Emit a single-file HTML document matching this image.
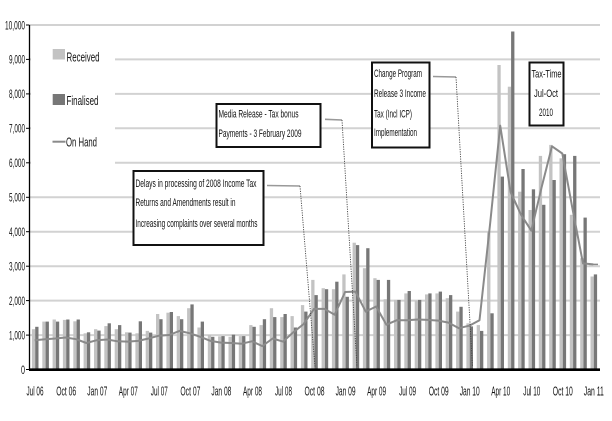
<!DOCTYPE html>
<html><head><meta charset="utf-8"><style>
html,body{margin:0;padding:0;background:#fff;}
svg{display:block;}
text{font-family:"Liberation Sans",Arial,sans-serif;fill:#111;}
</style></head><body>
<svg width="612" height="421" viewBox="0 0 612 421" xmlns="http://www.w3.org/2000/svg">
<rect width="612" height="421" fill="#fff"/>
<!-- gridlines -->
<g stroke="#d2d2d2" stroke-width="2">
<line x1="30" y1="25" x2="600" y2="25"/>
<line x1="30" y1="59.4" x2="600" y2="59.4"/>
<line x1="30" y1="93.9" x2="600" y2="93.9"/>
<line x1="30" y1="128.3" x2="600" y2="128.3"/>
<line x1="30" y1="162.8" x2="600" y2="162.8"/>
<line x1="30" y1="197.3" x2="600" y2="197.3"/>
<line x1="30" y1="231.7" x2="600" y2="231.7"/>
<line x1="30" y1="266.2" x2="600" y2="266.2"/>
<line x1="30" y1="300.6" x2="600" y2="300.6"/>
<line x1="30" y1="335.1" x2="600" y2="335.1"/>
</g>
<!-- legend background -->
<rect x="31" y="40" width="84" height="138" fill="#fff"/>
<!-- Received bars -->
<g fill="#c3c3c3">
<rect x="31.9" y="329.2" width="3.3" height="40.8"/>
<rect x="42.3" y="321.6" width="3.3" height="48.4"/>
<rect x="52.6" y="319.5" width="3.3" height="50.5"/>
<rect x="62.9" y="319.9" width="3.3" height="50.1"/>
<rect x="73.3" y="321.3" width="3.3" height="48.7"/>
<rect x="83.6" y="333.3" width="3.3" height="36.7"/>
<rect x="94.0" y="329.2" width="3.3" height="40.8"/>
<rect x="104.3" y="326.1" width="3.3" height="43.9"/>
<rect x="114.7" y="329.2" width="3.3" height="40.8"/>
<rect x="125.0" y="332.3" width="3.3" height="37.7"/>
<rect x="135.4" y="333.3" width="3.3" height="36.7"/>
<rect x="145.7" y="330.9" width="3.3" height="39.1"/>
<rect x="156.0" y="314.0" width="3.3" height="56.0"/>
<rect x="166.4" y="312.7" width="3.3" height="57.3"/>
<rect x="176.7" y="316.1" width="3.3" height="53.9"/>
<rect x="187.1" y="308.2" width="3.3" height="61.8"/>
<rect x="197.4" y="327.5" width="3.3" height="42.5"/>
<rect x="207.8" y="335.0" width="3.3" height="35.0"/>
<rect x="218.1" y="336.4" width="3.3" height="33.6"/>
<rect x="228.5" y="336.8" width="3.3" height="33.2"/>
<rect x="238.8" y="336.1" width="3.3" height="33.9"/>
<rect x="249.2" y="325.1" width="3.3" height="44.9"/>
<rect x="259.5" y="325.1" width="3.3" height="44.9"/>
<rect x="269.8" y="308.2" width="3.3" height="61.8"/>
<rect x="280.2" y="317.1" width="3.3" height="52.9"/>
<rect x="290.5" y="316.1" width="3.3" height="53.9"/>
<rect x="300.9" y="305.1" width="3.3" height="64.9"/>
<rect x="311.2" y="279.9" width="3.3" height="90.1"/>
<rect x="321.6" y="288.2" width="3.3" height="81.8"/>
<rect x="331.9" y="289.2" width="3.3" height="80.8"/>
<rect x="342.3" y="274.4" width="3.3" height="95.6"/>
<rect x="352.6" y="242.7" width="3.3" height="127.3"/>
<rect x="362.9" y="268.2" width="3.3" height="101.8"/>
<rect x="373.3" y="278.2" width="3.3" height="91.8"/>
<rect x="383.6" y="299.2" width="3.3" height="70.8"/>
<rect x="394.0" y="299.9" width="3.3" height="70.1"/>
<rect x="404.3" y="293.4" width="3.3" height="76.6"/>
<rect x="414.7" y="300.6" width="3.3" height="69.4"/>
<rect x="425.0" y="294.4" width="3.3" height="75.6"/>
<rect x="435.4" y="293.4" width="3.3" height="76.6"/>
<rect x="445.7" y="298.2" width="3.3" height="71.8"/>
<rect x="456.1" y="311.6" width="3.3" height="58.4"/>
<rect x="466.4" y="323.3" width="3.3" height="46.7"/>
<rect x="476.7" y="325.1" width="3.3" height="44.9"/>
<rect x="487.1" y="231.7" width="3.3" height="138.3"/>
<rect x="497.4" y="65.0" width="3.3" height="305.0"/>
<rect x="507.8" y="86.7" width="3.3" height="283.3"/>
<rect x="518.1" y="191.7" width="3.3" height="178.3"/>
<rect x="528.5" y="210.0" width="3.3" height="160.0"/>
<rect x="538.8" y="155.9" width="3.3" height="214.1"/>
<rect x="549.2" y="144.9" width="3.3" height="225.1"/>
<rect x="559.5" y="158.3" width="3.3" height="211.7"/>
<rect x="569.8" y="214.8" width="3.3" height="155.2"/>
<rect x="580.2" y="258.2" width="3.3" height="111.8"/>
<rect x="590.5" y="276.5" width="3.3" height="93.5"/>
</g>
<!-- Finalised bars -->
<g fill="#777">
<rect x="35.2" y="326.8" width="3.3" height="43.2"/>
<rect x="45.6" y="321.6" width="3.3" height="48.4"/>
<rect x="55.9" y="321.6" width="3.3" height="48.4"/>
<rect x="66.2" y="319.5" width="3.3" height="50.5"/>
<rect x="76.6" y="319.5" width="3.3" height="50.5"/>
<rect x="86.9" y="332.3" width="3.3" height="37.7"/>
<rect x="97.3" y="330.6" width="3.3" height="39.4"/>
<rect x="107.6" y="323.3" width="3.3" height="46.7"/>
<rect x="118.0" y="325.1" width="3.3" height="44.9"/>
<rect x="128.3" y="332.6" width="3.3" height="37.4"/>
<rect x="138.7" y="321.3" width="3.3" height="48.7"/>
<rect x="149.0" y="332.6" width="3.3" height="37.4"/>
<rect x="159.3" y="319.2" width="3.3" height="50.8"/>
<rect x="169.7" y="312.0" width="3.3" height="58.0"/>
<rect x="180.0" y="319.2" width="3.3" height="50.8"/>
<rect x="190.4" y="304.4" width="3.3" height="65.6"/>
<rect x="200.7" y="321.6" width="3.3" height="48.4"/>
<rect x="211.1" y="336.8" width="3.3" height="33.2"/>
<rect x="221.4" y="336.1" width="3.3" height="33.9"/>
<rect x="231.8" y="334.7" width="3.3" height="35.3"/>
<rect x="242.1" y="336.1" width="3.3" height="33.9"/>
<rect x="252.5" y="326.8" width="3.3" height="43.2"/>
<rect x="262.8" y="319.2" width="3.3" height="50.8"/>
<rect x="273.1" y="317.1" width="3.3" height="52.9"/>
<rect x="283.5" y="314.0" width="3.3" height="56.0"/>
<rect x="293.8" y="327.5" width="3.3" height="42.5"/>
<rect x="304.2" y="311.6" width="3.3" height="58.4"/>
<rect x="314.5" y="295.1" width="3.3" height="74.9"/>
<rect x="324.9" y="289.2" width="3.3" height="80.8"/>
<rect x="335.2" y="281.7" width="3.3" height="88.3"/>
<rect x="345.6" y="296.8" width="3.3" height="73.2"/>
<rect x="355.9" y="245.1" width="3.3" height="124.9"/>
<rect x="366.2" y="248.2" width="3.3" height="121.8"/>
<rect x="376.6" y="279.9" width="3.3" height="90.1"/>
<rect x="386.9" y="279.9" width="3.3" height="90.1"/>
<rect x="397.3" y="299.9" width="3.3" height="70.1"/>
<rect x="407.6" y="291.0" width="3.3" height="79.0"/>
<rect x="418.0" y="299.9" width="3.3" height="70.1"/>
<rect x="428.3" y="293.4" width="3.3" height="76.6"/>
<rect x="438.7" y="291.6" width="3.3" height="78.4"/>
<rect x="449.0" y="295.1" width="3.3" height="74.9"/>
<rect x="459.4" y="306.8" width="3.3" height="63.2"/>
<rect x="469.7" y="326.4" width="3.3" height="43.6"/>
<rect x="480.0" y="330.9" width="3.3" height="39.1"/>
<rect x="490.4" y="313.3" width="3.3" height="56.7"/>
<rect x="500.7" y="176.6" width="3.3" height="193.4"/>
<rect x="511.1" y="31.5" width="3.3" height="338.5"/>
<rect x="521.4" y="169.0" width="3.3" height="201.0"/>
<rect x="531.8" y="189.3" width="3.3" height="180.7"/>
<rect x="542.1" y="204.8" width="3.3" height="165.2"/>
<rect x="552.5" y="180.0" width="3.3" height="190.0"/>
<rect x="562.8" y="154.2" width="3.3" height="215.8"/>
<rect x="573.1" y="155.9" width="3.3" height="214.1"/>
<rect x="583.5" y="217.6" width="3.3" height="152.4"/>
<rect x="593.8" y="274.4" width="3.3" height="95.6"/>
</g>
<!-- On Hand line -->
<polyline fill="none" stroke="#8a8a8a" stroke-width="2" stroke-linejoin="round" points="34.7,340.2 45.1,339.2 55.4,338.5 65.7,337.5 76.1,339.2 86.4,343.0 96.8,340.2 107.1,339.5 117.5,341.3 127.8,341.6 138.2,340.9 148.5,338.5 158.8,335.7 169.2,335.0 179.5,330.9 189.9,333.3 200.2,336.8 210.6,340.9 220.9,342.6 231.3,343.0 241.6,343.7 252.0,341.3 262.3,346.1 272.6,338.5 283.0,341.6 293.3,332.3 303.7,324.0 314.0,308.9 324.4,308.9 334.7,314.7 345.1,292.0 355.4,291.6 365.7,311.6 376.1,306.5 386.4,324.7 396.8,320.2 407.1,320.2 417.5,319.5 427.8,319.9 438.2,320.6 448.5,322.6 458.9,328.2 469.2,325.7 479.5,320.2 490.0,224.8 500.2,125.6 510.6,192.1 520.9,214.5 531.3,230.7 541.6,187.3 552.0,146.3 562.3,153.5 572.6,209.3 583.0,263.4 593.3,264.4"/>
<line x1="589" y1="264.4" x2="598" y2="264.4" stroke="#8a8a8a" stroke-width="1.5"/>
<!-- axes -->
<line x1="29.5" y1="25" x2="29.5" y2="370" stroke="#000" stroke-width="1.3"/>
<g stroke="#000" stroke-width="1">
<line x1="26" y1="25" x2="29.5" y2="25"/>
<line x1="26" y1="59.4" x2="29.5" y2="59.4"/>
<line x1="26" y1="93.9" x2="29.5" y2="93.9"/>
<line x1="26" y1="128.3" x2="29.5" y2="128.3"/>
<line x1="26" y1="162.8" x2="29.5" y2="162.8"/>
<line x1="26" y1="197.3" x2="29.5" y2="197.3"/>
<line x1="26" y1="231.7" x2="29.5" y2="231.7"/>
<line x1="26" y1="266.2" x2="29.5" y2="266.2"/>
<line x1="26" y1="300.6" x2="29.5" y2="300.6"/>
<line x1="26" y1="335.1" x2="29.5" y2="335.1"/>
<line x1="26" y1="369.5" x2="29.5" y2="369.5"/>
</g>
<line x1="29" y1="369.7" x2="600" y2="369.7" stroke="#000" stroke-width="2.6"/>
<!-- y labels -->
<g font-size="12" text-anchor="end">
<text x="25" y="29.3" textLength="20" lengthAdjust="spacingAndGlyphs">10,000</text>
<text x="25" y="63.7" textLength="16" lengthAdjust="spacingAndGlyphs">9,000</text>
<text x="25" y="98.2" textLength="16" lengthAdjust="spacingAndGlyphs">8,000</text>
<text x="25" y="132.6" textLength="16" lengthAdjust="spacingAndGlyphs">7,000</text>
<text x="25" y="167.1" textLength="16" lengthAdjust="spacingAndGlyphs">6,000</text>
<text x="25" y="201.6" textLength="16" lengthAdjust="spacingAndGlyphs">5,000</text>
<text x="25" y="236" textLength="16" lengthAdjust="spacingAndGlyphs">4,000</text>
<text x="25" y="270.5" textLength="16" lengthAdjust="spacingAndGlyphs">3,000</text>
<text x="25" y="304.9" textLength="16" lengthAdjust="spacingAndGlyphs">2,000</text>
<text x="25" y="339.4" textLength="16" lengthAdjust="spacingAndGlyphs">1,000</text>
<text x="25" y="373.8" textLength="4" lengthAdjust="spacingAndGlyphs">0</text>
</g>
<!-- x labels -->
<g font-size="13" text-anchor="middle">
<text x="35" y="395.5" textLength="17" lengthAdjust="spacingAndGlyphs">Jul 06</text>
<text x="66.2" y="395.5" textLength="20" lengthAdjust="spacingAndGlyphs">Oct 06</text>
<text x="97.3" y="395.5" textLength="20" lengthAdjust="spacingAndGlyphs">Jan 07</text>
<text x="128.3" y="395.5" textLength="19" lengthAdjust="spacingAndGlyphs">Apr 07</text>
<text x="159.3" y="395.5" textLength="17" lengthAdjust="spacingAndGlyphs">Jul 07</text>
<text x="190.4" y="395.5" textLength="20" lengthAdjust="spacingAndGlyphs">Oct 07</text>
<text x="221.4" y="395.5" textLength="20" lengthAdjust="spacingAndGlyphs">Jan 08</text>
<text x="252.5" y="395.5" textLength="19" lengthAdjust="spacingAndGlyphs">Apr 08</text>
<text x="283.5" y="395.5" textLength="17" lengthAdjust="spacingAndGlyphs">Jul 08</text>
<text x="314.5" y="395.5" textLength="20" lengthAdjust="spacingAndGlyphs">Oct 08</text>
<text x="345.6" y="395.5" textLength="20" lengthAdjust="spacingAndGlyphs">Jan 09</text>
<text x="376.6" y="395.5" textLength="19" lengthAdjust="spacingAndGlyphs">Apr 09</text>
<text x="407.6" y="395.5" textLength="17" lengthAdjust="spacingAndGlyphs">Jul 09</text>
<text x="438.7" y="395.5" textLength="20" lengthAdjust="spacingAndGlyphs">Oct 09</text>
<text x="469.7" y="395.5" textLength="20" lengthAdjust="spacingAndGlyphs">Jan 10</text>
<text x="500.7" y="395.5" textLength="19" lengthAdjust="spacingAndGlyphs">Apr 10</text>
<text x="531.8" y="395.5" textLength="17" lengthAdjust="spacingAndGlyphs">Jul 10</text>
<text x="562.8" y="395.5" textLength="20" lengthAdjust="spacingAndGlyphs">Oct 10</text>
<text x="593.8" y="395.5" textLength="20" lengthAdjust="spacingAndGlyphs">Jan 11</text>
</g>
<!-- legend -->
<rect x="52.7" y="49" width="12.3" height="10.5" fill="#c3c3c3"/>
<text x="66.5" y="61.5" font-size="13" textLength="33" lengthAdjust="spacingAndGlyphs">Received</text>
<rect x="52.7" y="94" width="12.3" height="11" fill="#777"/>
<text x="66.5" y="105" font-size="13" textLength="32" lengthAdjust="spacingAndGlyphs">Finalised</text>
<line x1="52.5" y1="141.7" x2="65.5" y2="141.7" stroke="#8a8a8a" stroke-width="2"/>
<text x="66" y="146.5" font-size="13" textLength="31" lengthAdjust="spacingAndGlyphs">On Hand</text>
<!-- annotation boxes -->
<g fill="#fff" stroke="#111" stroke-width="2">
<rect x="133.5" y="171" width="130" height="74"/>
<rect x="216.5" y="104" width="104" height="43"/>
<rect x="372" y="62.5" width="57.5" height="85"/>
<rect x="529.5" y="62.5" width="34" height="63"/>
</g>
<g font-size="10.8">
<text x="135.5" y="187" textLength="121" lengthAdjust="spacingAndGlyphs">Delays in processing of 2008 Income Tax</text>
<text x="135.5" y="206" textLength="100" lengthAdjust="spacingAndGlyphs">Returns and Amendments result in</text>
<text x="135.5" y="227" textLength="122" lengthAdjust="spacingAndGlyphs">Increasing complaints over several months</text>
<text x="218.5" y="117.5" textLength="80" lengthAdjust="spacingAndGlyphs">Media Release - Tax bonus</text>
<text x="218.5" y="137" textLength="83" lengthAdjust="spacingAndGlyphs">Payments - 3 February 2009</text>
<text x="374" y="77" textLength="48" lengthAdjust="spacingAndGlyphs">Change Program</text>
<text x="374" y="97" textLength="52" lengthAdjust="spacingAndGlyphs">Release 3 Income</text>
<text x="374" y="117.5" textLength="38" lengthAdjust="spacingAndGlyphs">Tax (Incl ICP)</text>
<text x="374" y="136" textLength="43" lengthAdjust="spacingAndGlyphs">Implementation</text>
<text x="546.5" y="77.5" text-anchor="middle" textLength="30" lengthAdjust="spacingAndGlyphs">Tax-Time</text>
<text x="546" y="97" text-anchor="middle" textLength="24" lengthAdjust="spacingAndGlyphs">Jul-Oct</text>
<text x="546" y="116" text-anchor="middle" textLength="14" lengthAdjust="spacingAndGlyphs">2010</text>
</g>
<!-- connectors -->
<g stroke="#999" stroke-width="1.6">
<line x1="267" y1="185.5" x2="300" y2="186"/>
<line x1="325" y1="119.3" x2="342" y2="120"/>
<line x1="433" y1="76.5" x2="456" y2="77"/>
</g>
<g stroke="#444" stroke-width="0.9" stroke-dasharray="1.2,1.2" fill="none">
<line x1="300" y1="186" x2="315" y2="367"/>
<line x1="342" y1="120" x2="357" y2="367"/>
<line x1="456" y1="77" x2="472.5" y2="367"/>
</g>
</svg>
</body></html>
